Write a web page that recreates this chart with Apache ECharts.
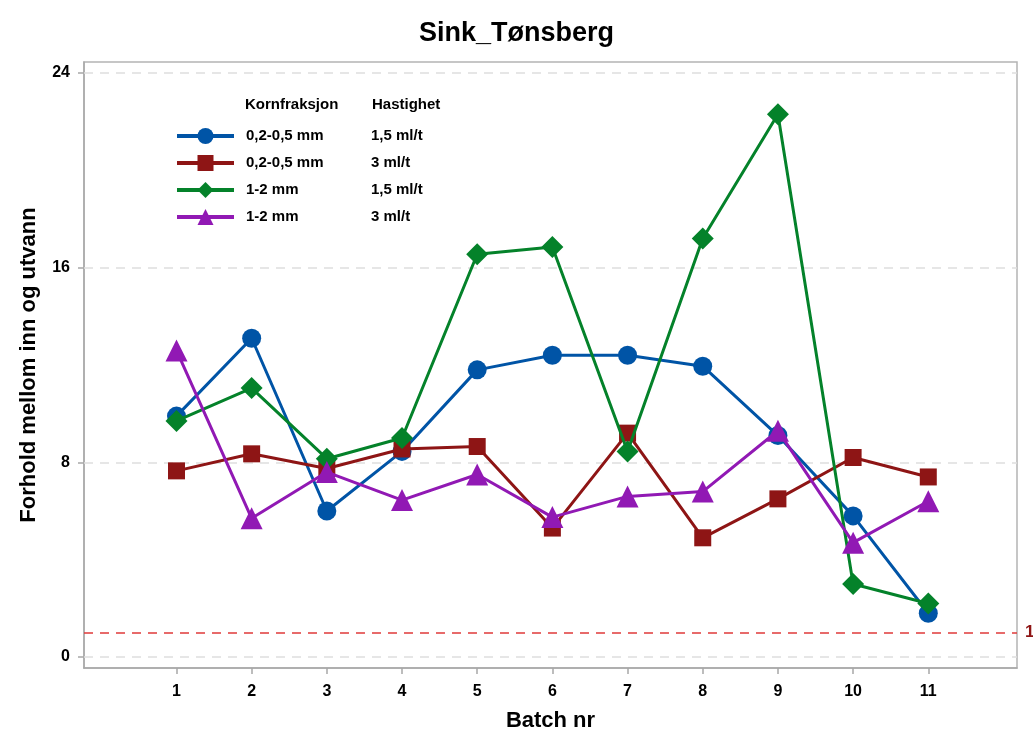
<!DOCTYPE html>
<html>
<head>
<meta charset="utf-8">
<title>Sink_Tønsberg</title>
<script src="https://cdn.jsdelivr.net/npm/echarts@6/dist/echarts.min.js"></script>
<style>
  html, body { margin: 0; padding: 0; background: #fff; }
  #chart { width: 1033px; height: 737px; }
</style>
</head>
<body>
<div id="chart"></div>
<script>
var batches = [1, 2, 3, 4, 5, 6, 7, 8, 9, 10, 11];
var yTicks = [0, 8, 16, 24];
var limit = 1;

var fractions = ['0,2-0,5 mm', '0,2-0,5 mm', '1-2 mm', '1-2 mm'];
var speeds = ['1,5 ml/t', '3 ml/t', '1,5 ml/t', '3 ml/t'];

var fine15 = [9.9, 13.1, 6.0, 8.45, 11.8, 12.4, 12.4, 11.95, 9.1, 5.8, 1.8];
var fine3 = [7.65, 8.35, 7.75, 8.55, 8.65, 5.3, 9.2, 4.9, 6.5, 8.2, 7.4];
var coarse15 = [9.7, 11.05, 8.15, 9.0, 16.55, 16.85, 8.45, 17.2, 22.3, 3.0, 2.2];
var coarse3 = [12.6, 5.7, 7.6, 6.45, 7.5, 5.75, 6.6, 6.8, 9.3, 4.7, 6.4];

var colorList = ['#0054a6', '#8e1515', '#04822a', '#9119b4'];
var symbols = ['circle', 'rect', 'diamond', 'triangle'];
var symbolSizes = [19, 17, 22, 22];
var allValues = [fine15, fine3, coarse15, coarse3];

var font = '"Liberation Sans", Arial, sans-serif';

var chart = echarts.init(document.getElementById('chart'));

var series = allValues.map(function (vals, k) {
    return {
        name: fractions[k] + '|' + speeds[k],
        type: 'line',
        data: batches.map(function (b, i) { return [b, vals[i]]; }),
        symbol: symbols[k],
        symbolSize: symbolSizes[k],
        color: colorList[k],
        lineStyle: { width: 3, color: colorList[k] },
        itemStyle: { color: colorList[k] },
        z: 3 + k
    };
});

// grid lines and the limit line
series[0].markLine = {
    silent: true,
    symbol: 'none',
    animation: false,
    z: 1,
    data: yTicks.map(function (v) {
        return {
            yAxis: v,
            lineStyle: { color: '#dedede', type: [9, 7], width: 1.5 },
            label: { show: false }
        };
    }).concat([{
        yAxis: limit,
        lineStyle: { color: '#e03a3a', type: [9, 7], width: 1.5 },
        label: {
            show: true,
            position: 'end',
            formatter: String(limit),
            color: '#8e1515',
            fontWeight: 'bold',
            fontSize: 17,
            fontFamily: font,
            distance: 8
        }
    }])
};

chart.setOption({
    backgroundColor: '#fff',
    animation: false,
    title: {
        text: 'Sink_Tønsberg',
        left: 'center',
        top: 15,
        textStyle: { fontSize: 27, fontWeight: 'bold', color: '#000', fontFamily: font }
    },
    grid: {
        left: 84, top: 62, right: 16, bottom: 69,
        outerBoundsMode: 'none',
        containLabel: false,
        show: true, borderColor: '#b4b4b4', borderWidth: 1.5
    },
    legend: {
        left: 170,
        top: 123,
        orient: 'vertical',
        itemWidth: 57,
        itemHeight: 20,
        itemGap: 11,
        lineStyle: { width: 4 },
        formatter: function (name) {
            var p = name.split('|');
            return '{a|' + p[0] + '}{b|' + p[1] + '}';
        },
        textStyle: {
            fontFamily: font,
            rich: {
                a: { width: 125, fontSize: 15, fontWeight: 'bold', color: '#000', fontFamily: font, padding: [0, 0, 0, 7] },
                b: { fontSize: 15, fontWeight: 'bold', color: '#000', fontFamily: font }
            }
        }
    },
    graphic: [
        { type: 'text', left: 245, top: 97, style: { text: 'Kornfraksjon', fontSize: 15, fontWeight: 'bold', fontFamily: font, fill: '#000' } },
        { type: 'text', left: 372, top: 97, style: { text: 'Hastighet', fontSize: 15, fontWeight: 'bold', fontFamily: font, fill: '#000' } }
    ],
    xAxis: {
        type: 'value',
        min: -0.23,
        max: 12.18,
        name: 'Batch nr',
        nameLocation: 'middle',
        nameGap: 42,
        nameTextStyle: { fontSize: 22, fontWeight: 'bold', color: '#000', fontFamily: font },
        axisLine: { show: true, onZero: false, lineStyle: { color: '#a8a8a8', width: 1.5 } },
        axisTick: { show: true, customValues: batches, length: 6, lineStyle: { color: '#a8a8a8', width: 1.5 } },
        axisLabel: { customValues: batches, fontSize: 16, fontWeight: 'bold', color: '#000', fontFamily: font, margin: 16 },
        splitLine: { show: false }
    },
    yAxis: {
        type: 'value',
        min: -0.45,
        max: 24.45,
        name: 'Forhold mellom inn og utvann',
        nameLocation: 'middle',
        nameGap: 44,
        nameTextStyle: { fontSize: 22, fontWeight: 'bold', color: '#000', fontFamily: font },
        axisLine: { show: true, onZero: false, lineStyle: { color: '#a8a8a8', width: 1.5 } },
        axisTick: { show: true, customValues: yTicks, length: 6, lineStyle: { color: '#a8a8a8', width: 1.5 } },
        axisLabel: { customValues: yTicks, fontSize: 16, fontWeight: 'bold', color: '#000', fontFamily: font, margin: 14 },
        splitLine: { show: false }
    },
    series: series
});
</script>
</body>
</html>
